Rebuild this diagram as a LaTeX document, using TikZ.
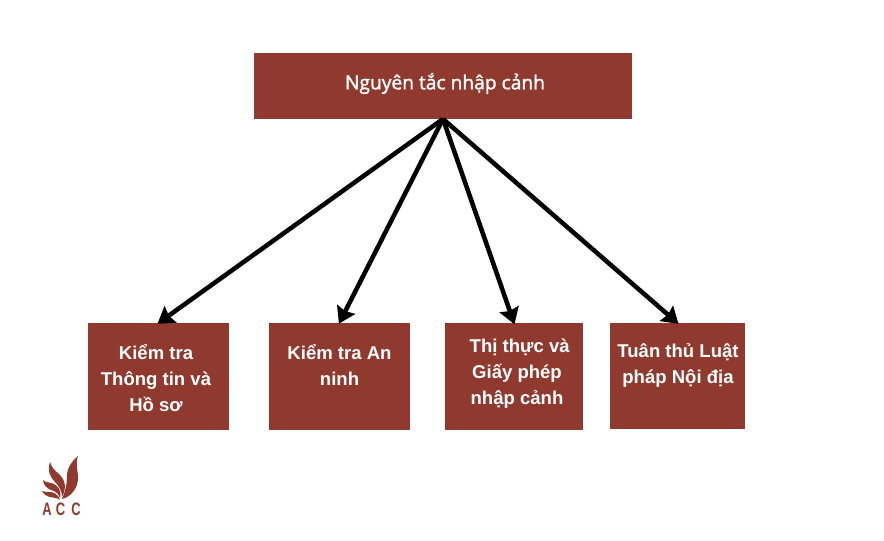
\documentclass[tikz,border=0pt]{standalone}
\usepackage{fontspec}
\setmainfont{Liberation Sans}
\newfontfamily\topfont[FakeBold=1.6]{Open Sans}
\newfontfamily\logofont[FakeStretch=0.72]{Liberation Sans}
\usetikzlibrary{arrows.meta}
\definecolor{brick}{HTML}{903A2F}
\tikzset{
  x=0.75pt,y=-0.75pt,
  boxnode/.style={fill=brick,draw=none,inner sep=0pt,outer sep=0pt,anchor=north west},
  boxlabel/.style={text=white,font=\fontsize{13.9pt}{19.5pt}\selectfont\bfseries,align=center,inner sep=0pt},
  toplabel/.style={text=white,font=\fontsize{14.4pt}{16pt}\selectfont\topfont,inner sep=0pt},
  link/.style={draw=black,line width=3.4pt,-{Stealth[length=12pt,width=15pt,inset=1.5pt]},shorten >=-1pt},
  leaf/.style={fill=brick,draw=none},
  logotext/.style={text=brick,font=\fontsize{13.5pt}{14pt}\selectfont\logofont\bfseries,inner sep=0pt}
}
\begin{document}
\begin{tikzpicture}
\useasboundingbox (0,0) rectangle (884,540);
\fill[white] (0,0) rectangle (884,540);
\node[boxnode,minimum width=378*0.75pt,minimum height=66*0.75pt] (top) at (254,53) {};
\node[boxnode,minimum width=141*0.75pt,minimum height=107*0.75pt] (b1) at (88,323) {};
\node[boxnode,minimum width=141*0.75pt,minimum height=107*0.75pt] (b2) at (269,322.5) {};
\node[boxnode,minimum width=138*0.75pt,minimum height=107*0.75pt] (b3) at (445,323) {};
\node[boxnode,minimum width=135*0.75pt,minimum height=106*0.75pt] (b4) at (610,323) {};
\node[toplabel] (t0) at (445,83.5) {Nguyên tắc nhập cảnh};
\node[boxlabel] (t1) at (156,378) {Kiểm tra\\Thông tin và\\Hồ sơ};
\node[boxlabel] (t2) at (339.5,365) {Kiểm tra An\\ninh};
\node[boxlabel] (t3) at (517,373.5) {\hspace*{4pt}Thị thực và\\Giấy phép\\nhập cảnh};
\node[boxlabel] (t4) at (678,365) {Tuân thủ Luật\\pháp Nội địa};
\foreach \n in {b1,b2,b3,b4} \draw[link] (top.south) -- (\n.north);
% logo
\fill[leaf] (78,456) .. controls (72,461) and (67,468) .. (67,476) .. controls (67,485) and (65,492) .. (62,499) .. controls (71,497) and (78,488) .. (78,478) .. controls (78,470) and (75,464) .. (78,456) -- cycle;
\fill[leaf] (50,462) .. controls (47,472) and (51,478) .. (55,482) .. controls (59,486) and (62,491) .. (62,497) .. controls (67,488) and (65,480) .. (60,475) .. controls (56,471) and (52,469) .. (50,462) -- cycle;
\fill[leaf] (43,480) .. controls (44,488) and (50,490) .. (54,491) .. controls (57,492) and (59,495) .. (60,498) .. controls (62,491) and (58,486) .. (54,484) .. controls (50,482) and (46,483) .. (43,480) -- cycle;
\fill[leaf] (42,491) .. controls (46,498) and (52,497) .. (56,498) .. controls (58,498.5) and (59,499) .. (60,500) .. controls (58,494) and (54,492) .. (50,492) .. controls (47,492) and (45,492) .. (42,491) -- cycle;
\node[logotext] (la) at (47,509.5) {A};
\node[logotext] (lb) at (60.5,509.5) {C};
\node[logotext] (lc) at (76,509.5) {C};
\end{tikzpicture}
\end{document}
